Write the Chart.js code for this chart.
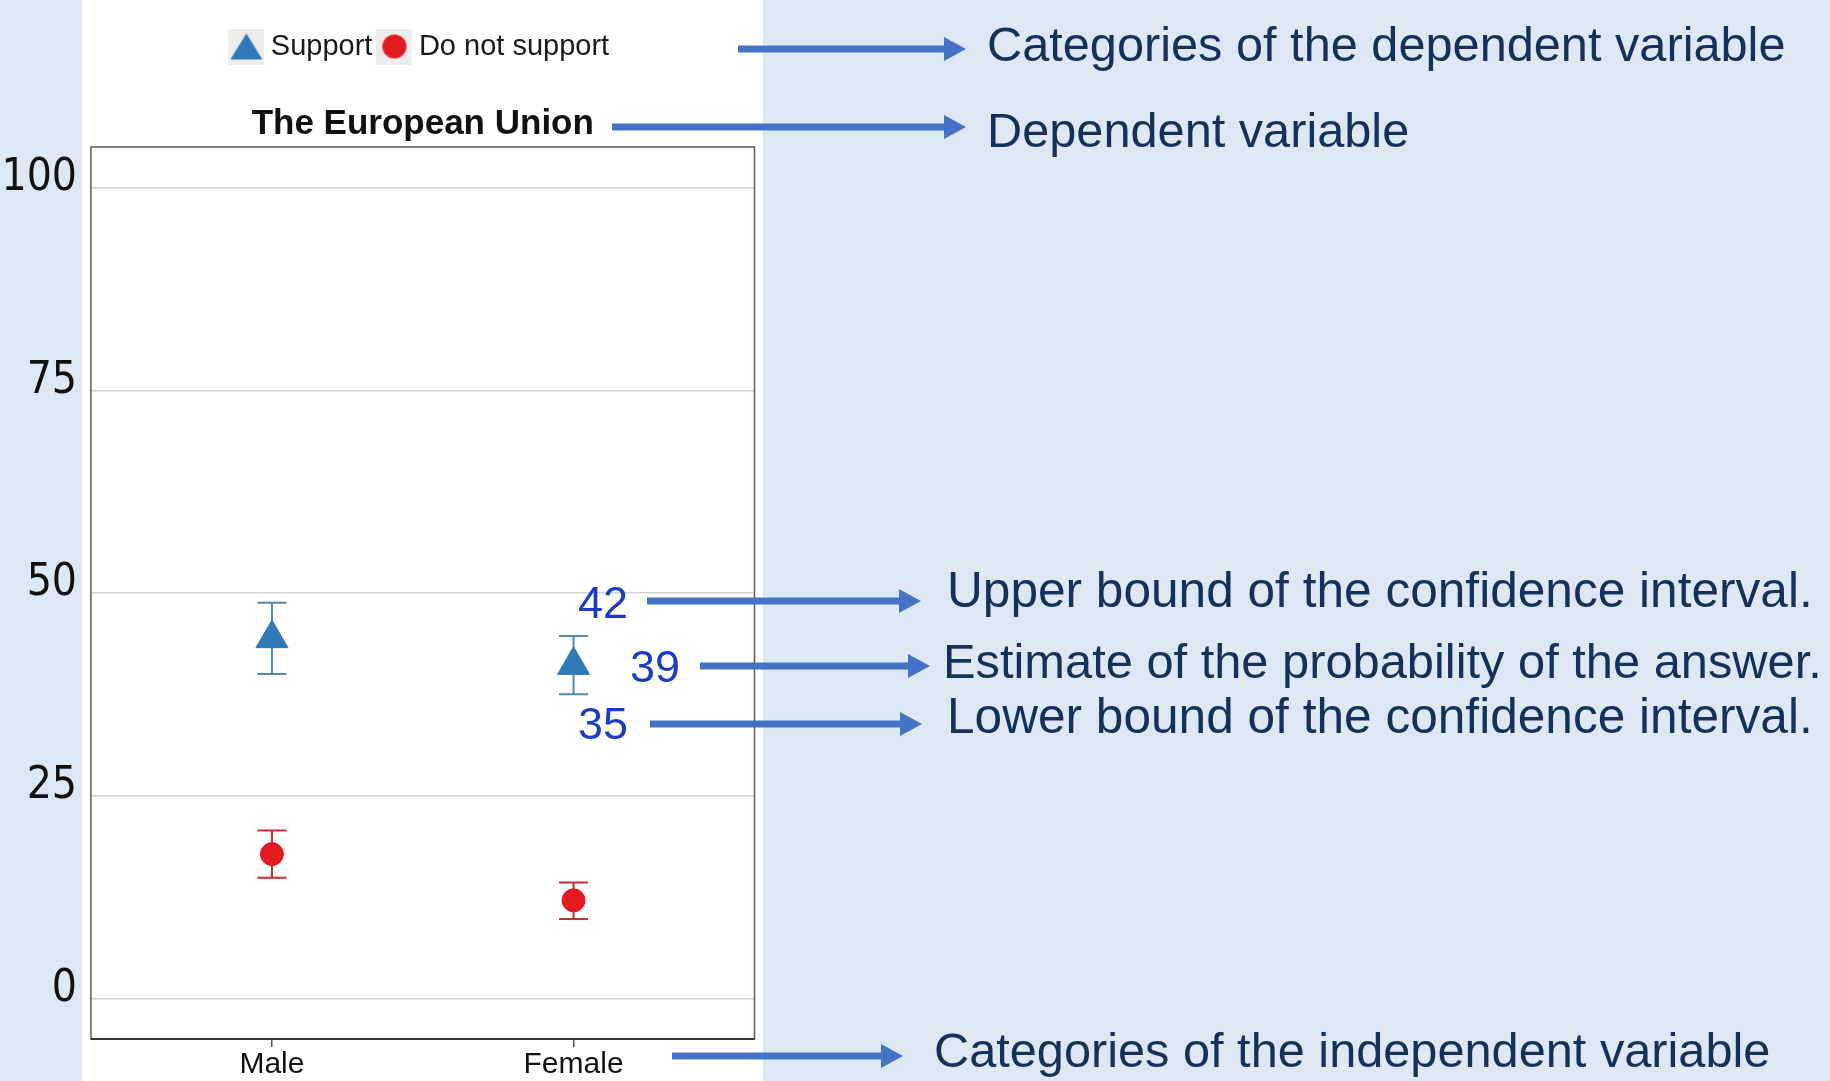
<!DOCTYPE html>
<html>
<head>
<meta charset="utf-8">
<title>The European Union</title>
<script src="https://cdn.jsdelivr.net/npm/chart.js@4.4.0/dist/chart.umd.min.js"></script>
<style>
    html, body { margin: 0; padding: 0; }
    body {
        width: 1830px;
        height: 1081px;
        position: relative;
        overflow: hidden;
        background: #dde8f5;
        font-family: 'Liberation Sans', Arial, sans-serif;
    }
    #panel { position: absolute; left: 82px; top: 0; width: 681px; height: 1081px; background: #ffffff; }
    #chartBox { position: absolute; left: 0; top: 0; width: 774px; height: 1081px; }
    #arrows { position: absolute; left: 0; top: 0; }
    .note {
        position: absolute;
        color: #14315a;
        line-height: 1;
        white-space: nowrap;
        transform: translateY(-50%);
    }
    .bound {
        position: absolute;
        color: #1b3cc9;
        font-size: 45px;
        line-height: 1;
        transform: translate(-50%, -50%);
    }
</style>
</head>
<body>
<div id="panel"></div>
<div id="chartBox"><canvas id="euChart"></canvas></div>
<svg id="arrows" width="1830" height="1081"></svg>

<script>
// --- data ---
const categories = ['Male', 'Female'];
const categoryPositions = [1, 2];
const seriesLabels = ['Support', 'Do not support'];
const supportEstimate = [44.4, 41.1];
const supportLower = [40.0, 37.5];
const supportUpper = [48.8, 44.7];
const notSupportEstimate = [17.8, 12.1];
const notSupportLower = [14.9, 9.8];
const notSupportUpper = [20.7, 14.3];
const yTickValues = [0, 25, 50, 75, 100];
const chartTitle = 'The European Union';

// annotation texts on the right
const noteTexts = [
    'Categories of the dependent variable',
    'Dependent variable',
    'Upper bound of the confidence interval.',
    'Estimate of the probability of the answer.',
    'Lower bound of the confidence interval.',
    'Categories of the independent variable'
];
const boundLabels = ['42', '39', '35'];

// layout of the annotation layer (left x, centre y, font size)
const notePlacement = [[987, 44, 48.7], [987, 130, 48.7], [947, 591, 49.6], [943, 661, 48.8], [947, 717, 49.6], [934, 1050, 48.7]];
const boundPlacement = [[603, 602], [655, 666], [603, 723]];
const arrowPlacement = [[738, 966, 49], [612, 966, 127], [647, 921, 601], [700, 930, 666], [650, 922, 724], [672, 903, 1056]];

const FONT = "'Liberation Sans', Arial, sans-serif";
const TICK_FONT = "'DejaVu Sans Condensed', 'Liberation Sans', sans-serif";
const SUPPORT_COLOR = '#2f7ab6';
const NOT_SUPPORT_COLOR = '#e31b1f';

const toPoints = values => values.map((v, i) => ({ x: categoryPositions[i], y: v }));

// legend markers sit on a light grey tile in the original
function legendMarker(kind, color) {
    const c = document.createElement('canvas');
    c.width = 36;
    c.height = 36;
    const g = c.getContext('2d');
    g.fillStyle = '#ececec';
    g.fillRect(0, 0, 36, 36);
    g.fillStyle = color;
    g.beginPath();
    if (kind === 'triangle') {
        g.moveTo(18, 5);
        g.lineTo(34, 31);
        g.lineTo(2, 31);
        g.closePath();
    } else {
        g.arc(18, 18, 12, 0, Math.PI * 2);
    }
    g.fill();
    return c;
}
const legendMarkers = [legendMarker('triangle', SUPPORT_COLOR), legendMarker('circle', NOT_SUPPORT_COLOR)];

const errorBarPlugin = {
    id: 'errorBars',
    beforeDatasetsDraw(chart) {
        const { ctx, scales: { x, y } } = chart;
        chart.data.datasets.forEach(ds => {
            ctx.save();
            ctx.strokeStyle = ds.errorColor;
            ctx.lineWidth = 2;
            ds.data.forEach((pt, i) => {
                const px = x.getPixelForValue(pt.x);
                const top = y.getPixelForValue(ds.upper[i]);
                const bottom = y.getPixelForValue(ds.lower[i]);
                ctx.beginPath();
                ctx.moveTo(px, top);
                ctx.lineTo(px, bottom);
                ctx.moveTo(px - 14.5, top);
                ctx.lineTo(px + 14.5, top);
                ctx.moveTo(px - 14.5, bottom);
                ctx.lineTo(px + 14.5, bottom);
                ctx.stroke();
            });
            ctx.restore();
        });
    }
};

const framePlugin = {
    id: 'frame',
    afterDraw(chart) {
        const { ctx, chartArea: a } = chart;
        ctx.save();
        ctx.strokeStyle = '#5a5a5a';
        ctx.lineWidth = 1.5;
        ctx.strokeRect(a.left, a.top, a.right - a.left, a.bottom - a.top);
        ctx.strokeStyle = '#333333';
        ctx.lineWidth = 2;
        ctx.beginPath();
        ctx.moveTo(a.left, a.bottom);
        ctx.lineTo(a.right, a.bottom);
        ctx.stroke();
        ctx.restore();
    }
};

new Chart(document.getElementById('euChart'), {
    type: 'scatter',
    data: {
        datasets: [
            {
                label: seriesLabels[0],
                data: toPoints(supportEstimate),
                lower: supportLower,
                upper: supportUpper,
                errorColor: '#5289ad',
                pointStyle: 'triangle',
                pointRadius: 18.5,
                backgroundColor: SUPPORT_COLOR,
                borderColor: SUPPORT_COLOR,
                borderWidth: 1
            },
            {
                label: seriesLabels[1],
                data: toPoints(notSupportEstimate),
                lower: notSupportLower,
                upper: notSupportUpper,
                errorColor: '#cc2a31',
                pointStyle: 'circle',
                pointRadius: 11.5,
                backgroundColor: NOT_SUPPORT_COLOR,
                borderColor: NOT_SUPPORT_COLOR,
                borderWidth: 1
            }
        ]
    },
    options: {
        responsive: true,
        maintainAspectRatio: false,
        animation: false,
        events: [],
        layout: { padding: { top: 20, right: 8, left: 0, bottom: 0 } },
        plugins: {
            legend: {
                position: 'top',
                fullSize: false,
                weight: 3000,
                labels: {
                    usePointStyle: true,
                    boxWidth: 20,
                    boxHeight: 20,
                    padding: 12,
                    color: '#1a1a1a',
                    font: { family: FONT, size: 29 },
                    generateLabels: chart => Chart.defaults.plugins.legend.labels.generateLabels(chart)
                        .map((item, i) => ({ ...item, pointStyle: legendMarkers[i] }))
                }
            },
            title: {
                display: true,
                text: chartTitle,
                fullSize: false,
                color: '#111111',
                font: { family: FONT, size: 35, weight: 'bold' },
                padding: { top: 32, bottom: 2 }
            },
            tooltip: { enabled: false }
        },
        scales: {
            x: {
                type: 'linear',
                min: 0.4,
                max: 2.6,
                afterBuildTicks: scale => { scale.ticks = categoryPositions.map(v => ({ value: v })); },
                afterFit: scale => { scale.height = 42; },
                grid: { drawOnChartArea: false, drawTicks: true, tickLength: 8, color: '#555555', lineWidth: 1.5 },
                border: { display: false },
                ticks: {
                    padding: 0,
                    autoSkip: false,
                    maxRotation: 0,
                    color: '#111111',
                    font: { family: FONT, size: 30 },
                    callback: v => categories[categoryPositions.indexOf(v)] || ''
                }
            },
            y: {
                min: -5,
                max: 105,
                afterBuildTicks: scale => { scale.ticks = yTickValues.map(v => ({ value: v })); },
                afterFit: scale => { scale.width = 91; },
                grid: { color: '#d2d2d2', lineWidth: 1.5, drawTicks: false },
                border: { display: false },
                ticks: {
                    padding: 14,
                    labelOffset: -9,
                    color: '#111111',
                    font: { family: TICK_FONT, size: 44 }
                }
            }
        }
    },
    plugins: [errorBarPlugin, framePlugin]
});

// --- annotation layer ---
noteTexts.forEach((text, i) => {
    const [left, top, size] = notePlacement[i];
    const el = document.createElement('div');
    el.className = 'note';
    el.textContent = text;
    el.style.left = left + 'px';
    el.style.top = top + 'px';
    el.style.fontSize = size + 'px';
    document.body.appendChild(el);
});

boundLabels.forEach((text, i) => {
    const el = document.createElement('div');
    el.className = 'bound';
    el.textContent = text;
    el.style.left = boundPlacement[i][0] + 'px';
    el.style.top = boundPlacement[i][1] + 'px';
    document.body.appendChild(el);
});

const svg = document.getElementById('arrows');
const NS = 'http://www.w3.org/2000/svg';
const headLen = 22, headHalf = 12;
arrowPlacement.forEach(([x1, x2, y]) => {
    const line = document.createElementNS(NS, 'line');
    line.setAttribute('x1', x1);
    line.setAttribute('x2', x2 - headLen + 1);
    line.setAttribute('y1', y);
    line.setAttribute('y2', y);
    line.setAttribute('stroke', '#4472c4');
    line.setAttribute('stroke-width', 7);
    svg.appendChild(line);
    const head = document.createElementNS(NS, 'polygon');
    head.setAttribute('points', `${x2},${y} ${x2 - headLen},${y - headHalf} ${x2 - headLen},${y + headHalf}`);
    head.setAttribute('fill', '#4472c4');
    svg.appendChild(head);
});
</script>
</body>
</html>
